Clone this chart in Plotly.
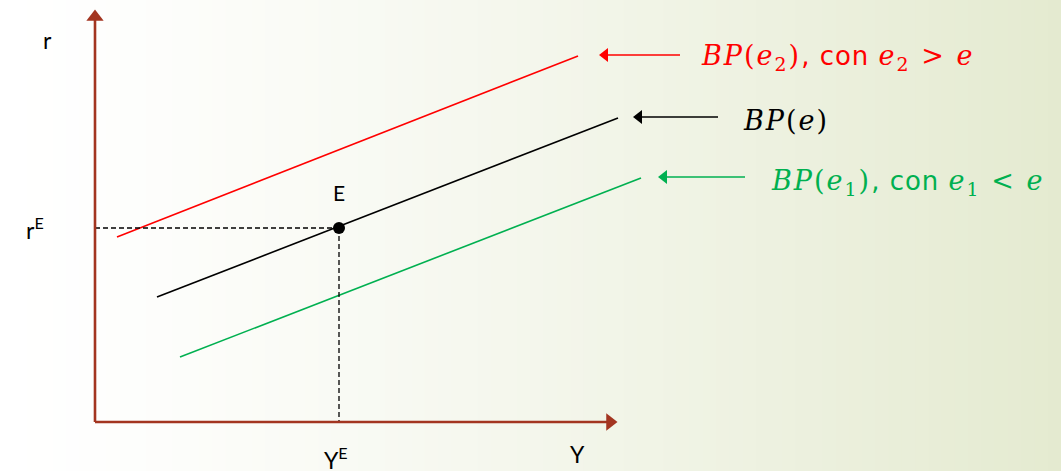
import plotly.graph_objects as go

# ---- data (diagram units: origin at axes corner) ----
x_axis_end = 515
y_axis_top = 405

bp_red_x = [22, 483]
bp_red_y = [185, 366]
bp_black_x = [62, 523]
bp_black_y = [125, 304]
bp_green_x = [85, 546]
bp_green_y = [65, 244]

eq_x = 244
eq_y = 194

# label arrows: (tail_x, tip_x, y)
lab_red = (585, 510, 367)
lab_black = (623, 544, 305)
lab_green = (650, 569, 245)

# label text positions (left x, y)
txt_red = (604, 365)
txt_black = (646, 302)
txt_green = (674, 240)

AXIS_COLOR = "#a33520"
RED = "#ff0000"
GREEN = "#00b050"
BLACK = "#000000"
MATH = "DejaVu Serif"
SANS = "DejaVu Sans"
LAB = "Lato"

fig = go.Figure()

# gradient background
n = 80
for i in range(n):
    t = (i + 0.5) / n
    f = t ** 1.3
    r = round(255 - f * (255 - 228))
    g = round(255 - f * (255 - 234))
    b = round(255 - f * (255 - 208))
    fig.add_shape(type="rect", xref="paper", yref="paper",
                  x0=i / n, x1=(i + 1) / n + 0.002, y0=0, y1=1,
                  fillcolor=f"rgb({r},{g},{b})", line_width=0, layer="below")

# BP lines
for xs, ys, c in [(bp_red_x, bp_red_y, RED), (bp_black_x, bp_black_y, BLACK),
                  (bp_green_x, bp_green_y, GREEN)]:
    fig.add_trace(go.Scatter(x=xs, y=ys, mode="lines",
                             line=dict(color=c, width=1.6), hoverinfo="skip"))

# dashed guides
fig.add_trace(go.Scatter(x=[0, eq_x], y=[eq_y, eq_y], mode="lines",
                         line=dict(color=BLACK, width=1.3, dash="5px,3px"), hoverinfo="skip"))
fig.add_trace(go.Scatter(x=[eq_x, eq_x], y=[eq_y, 0], mode="lines",
                         line=dict(color=BLACK, width=1.3, dash="5px,3px"), hoverinfo="skip"))

# equilibrium point
fig.add_trace(go.Scatter(x=[eq_x], y=[eq_y], mode="markers",
                         marker=dict(color=BLACK, size=12), hoverinfo="skip"))

# axes with arrowheads
fig.add_trace(go.Scatter(x=[0, 0], y=[0, y_axis_top], mode="lines",
                         line=dict(color=AXIS_COLOR, width=2.6), hoverinfo="skip"))
fig.add_trace(go.Scatter(x=[0, x_axis_end], y=[0, 0], mode="lines",
                         line=dict(color=AXIS_COLOR, width=2.6), hoverinfo="skip"))
fig.add_trace(go.Scatter(x=[0], y=[y_axis_top], mode="markers",
                         marker=dict(symbol="triangle-up", size=15, color=AXIS_COLOR), hoverinfo="skip"))
fig.add_trace(go.Scatter(x=[x_axis_end], y=[0], mode="markers",
                         marker=dict(symbol="triangle-right", size=15, color=AXIS_COLOR), hoverinfo="skip"))

# label arrows
for (tail, tip, yy), c in [(lab_red, RED), (lab_black, BLACK), (lab_green, GREEN)]:
    fig.add_trace(go.Scatter(x=[tip, tail], y=[yy, yy], mode="lines",
                             line=dict(color=c, width=1.6), hoverinfo="skip"))
    fig.add_trace(go.Scatter(x=[tip], y=[yy], mode="markers",
                             marker=dict(symbol="triangle-left", size=12, color=c), hoverinfo="skip"))

def m(s):
    return f'<span style="font-family:{MATH};font-size:27px;letter-spacing:2px">{s}</span>'

def sans(s):
    return f'<span style="letter-spacing:1px">{s}</span>'

lab_texts = [
    (txt_red, RED, m("<i>BP</i>(<i>e</i><sub>2</sub>)") + sans(", con ") + m("<i>e</i><sub>2</sub>&nbsp;&gt;&nbsp;<i>e</i>")),
    (txt_black, BLACK, m("<i>BP</i>(<i>e</i>)")),
    (txt_green, GREEN, m("<i>BP</i>(<i>e</i><sub>1</sub>)") + sans(", con ") + m("<i>e</i><sub>1</sub>&nbsp;&lt;&nbsp;<i>e</i>")),
]
for (tx, ty), c, s in lab_texts:
    fig.add_annotation(x=tx, y=ty, xref="x", yref="y", text=s, showarrow=False,
                       xanchor="left", yanchor="middle",
                       font=dict(family=SANS, size=26, color=c))

# axis labels
fig.add_annotation(x=-48, y=382, text="r", showarrow=False, xanchor="center", yanchor="middle",
                   font=dict(family=LAB, size=23, color=BLACK))
fig.add_annotation(x=-60, y=eq_y, text="r<sup>E</sup>", showarrow=False, xanchor="center",
                   yanchor="middle", font=dict(family=LAB, size=23, color=BLACK))
fig.add_annotation(x=eq_x, y=eq_y + 36, text="E", showarrow=False, xanchor="center",
                   yanchor="middle", font=dict(family=LAB, size=21, color=BLACK))
fig.add_annotation(x=eq_x - 3, y=-36, text="Y<sup>E</sup>", showarrow=False, xanchor="center",
                   yanchor="middle", font=dict(family=LAB, size=23, color=BLACK))
fig.add_annotation(x=x_axis_end - 33, y=-32, text="Y", showarrow=False, xanchor="center",
                   yanchor="middle", font=dict(family=LAB, size=23, color=BLACK))

fig.update_layout(
    width=1061, height=471,
    margin=dict(l=0, r=0, t=0, b=0),
    paper_bgcolor="white", plot_bgcolor="rgba(0,0,0,0)",
    showlegend=False,
    xaxis=dict(range=[-95, 966], visible=False, fixedrange=True),
    yaxis=dict(range=[-49, 422], visible=False, fixedrange=True),
)

fig.write_html("out.html", config={"displayModeBar": False},
               post_script="document.body.style.margin='0';document.body.style.overflow='hidden';")
